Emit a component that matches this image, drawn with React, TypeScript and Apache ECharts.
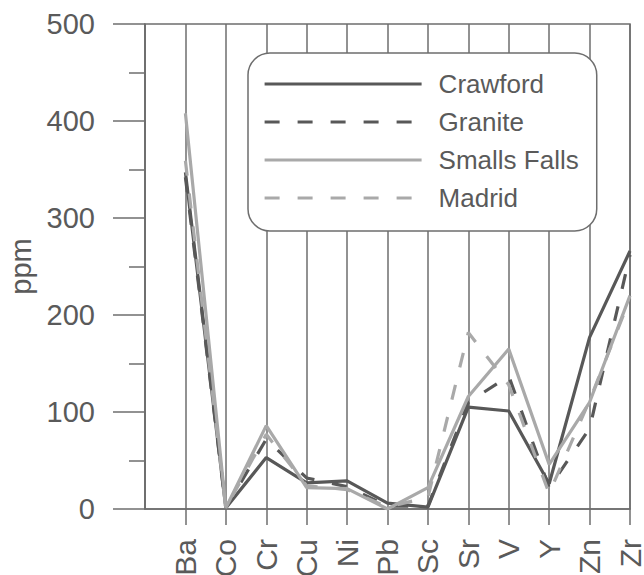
import React, { useEffect, useRef } from "react";
import * as echarts from "echarts";

const categories = ["Ba", "Co", "Cr", "Cu", "Ni", "Pb", "Sc", "Sr", "V", "Y", "Zn", "Zr"];
const crawford = [347, 1, 53, 27, 29, 6, 2, 105, 101, 26, 177, 266];
const granite = [342, 1, 72, 32, 23, 3, 3, 110, 137, 22, 83, 262];
const smallsFalls = [408, 1, 86, 22, 21, 0, 22, 116, 165, 46, 110, 220];
const madrid = [359, 1, 77, 24, 20, 2, 12, 182, 128, 16, 112, 217];
const yTicks = [0, 100, 200, 300, 400, 500];

const DARK = "#585858";
const LIGHT = "#a9a9a9";
const AXIS = "#6e6e6e";
const TEXT = "#5a5a5a";
const FONT = "Liberation Sans, Arial, sans-serif";

export default function App() {
  const ref = useRef<HTMLDivElement>(null);
  useEffect(() => {
    if (!ref.current) return;
    const chart = echarts.init(ref.current, undefined, { renderer: "svg" });
    const xData = ["", ...categories];
    const pad = (arr: number[]) => [null, ...arr];
    const mk = (name: string, data: number[], color: string, dashed: boolean) => ({
      name,
      type: "line",
      data: pad(data),
      symbol: "none",
      showSymbol: false,
      lineStyle: { color, width: 3.2, type: dashed ? [15, 18] : "solid", cap: "butt" },
      itemStyle: { color },
    });
    chart.setOption({
      animation: false,
      textStyle: { fontFamily: FONT },
      grid: {
        left: 145,
        right: 14,
        top: 24,
        bottom: 66,
        outerBoundsMode: "none",
        containLabel: false,
        show: true,
        borderColor: AXIS,
        borderWidth: 1.5,
      },
      legend: {
        orient: "vertical",
        left: 248,
        top: 53,
        padding: [18, 18, 20, 15],
        itemWidth: 157,
        itemHeight: 26,
        itemGap: 12,
        borderColor: AXIS,
        borderWidth: 1.5,
        borderRadius: 22,
        backgroundColor: "#ffffff",
        itemStyle: { opacity: 0 },
        lineStyle: { width: 3.2 },
        textStyle: {
          color: TEXT,
          fontSize: 26,
          lineHeight: 26,
          fontFamily: FONT,
          padding: [0, 0, 0, 12],
        },
        data: ["Crawford", "Granite", "Smalls Falls", "Madrid"],
      },
      xAxis: {
        type: "category",
        data: xData,
        boundaryGap: false,
        axisLine: { show: true, lineStyle: { color: AXIS, width: 1.5 } },
        axisTick: {
          show: true,
          length: 16,
          interval: (i: number) => i > 0,
          lineStyle: { color: AXIS, width: 1.5 },
        },
        splitLine: { show: true, interval: 0, lineStyle: { color: AXIS, width: 1.5 } },
        axisLabel: {
          interval: 0,
          rotate: 90,
          fontSize: 30,
          margin: 30,
          color: TEXT,
          fontFamily: FONT,
        },
      },
      yAxis: {
        type: "value",
        min: yTicks[0],
        max: yTicks[yTicks.length - 1],
        interval: 100,
        name: "ppm",
        nameLocation: "middle",
        nameGap: 108,
        nameTextStyle: { fontSize: 29, color: TEXT, fontFamily: FONT },
        axisLine: { show: true, lineStyle: { color: AXIS, width: 1.5 } },
        axisTick: { show: true, length: 32, lineStyle: { color: AXIS, width: 1.5 } },
        minorTick: { show: true, splitNumber: 2, length: 16, lineStyle: { color: AXIS, width: 1.5 } },
        splitLine: { show: false },
        axisLabel: { fontSize: 29, margin: 50, color: TEXT, fontFamily: FONT },
      },
      series: [
        mk("Crawford", crawford, DARK, false),
        mk("Granite", granite, DARK, true),
        mk("Smalls Falls", smallsFalls, LIGHT, false),
        mk("Madrid", madrid, LIGHT, true),
      ],
    });
    return () => chart.dispose();
  }, []);
  return (
    <div
      ref={ref}
      style={{ position: "fixed", left: 0, top: 0, width: 644, height: 575, background: "#fff" }}
    />
  );
}
